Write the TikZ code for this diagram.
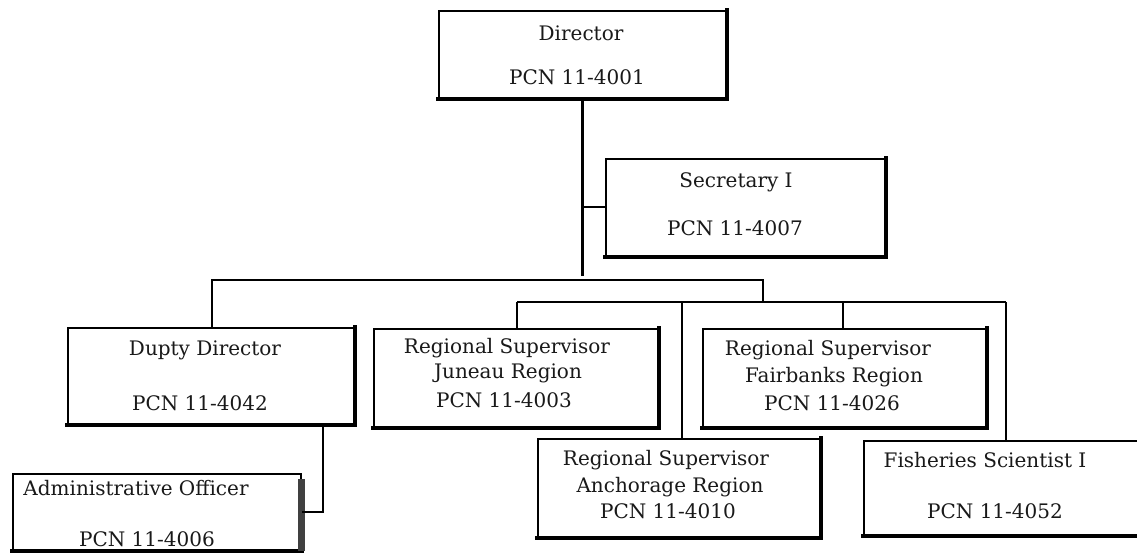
\documentclass[tikz,border=0pt]{standalone}
\usepackage{fontspec}
\newfontfamily\chartfont{DejaVu Serif}
\begin{document}
\begin{tikzpicture}[x=1pt,y=-1pt,
  box/.style={draw, line width=1.8pt, inner sep=0pt, anchor=north west},
  txt/.style={font=\chartfont\fontsize{20}{22}\selectfont, inner sep=0pt, text=black!90},
  conn/.style={line width=2.5pt},
  heavy/.style={line width=4.5pt, line cap=rect, line join=miter},
  shade/.style={line width=7pt, draw=black!75}]
\useasboundingbox[fill=white] (0,0) rectangle (1137,557);

% boxes
\node[box, minimum width=287pt, minimum height=87pt] (dir) at (438,10) {};
\node[box, minimum width=279pt, minimum height=97pt] (sec) at (605,158) {};
\node[box, minimum width=286pt, minimum height=96pt] (dup) at (67,327) {};
\node[box, minimum width=284pt, minimum height=98pt] (jun) at (373,328) {};
\node[box, minimum width=283pt, minimum height=98pt] (fai) at (702,328) {};
\node[box, minimum width=282pt, minimum height=98pt] (anc) at (537,438) {};
\node[box, minimum width=300pt, minimum height=94pt] (fis) at (863,440) {};
\node[box, minimum width=288pt, minimum height=76pt] (adm) at (12,473) {};

% heavy bottom/right edges
\draw[heavy] (dir.north east) -- (dir.south east) -- (dir.south west);
\draw[heavy] (sec.north east) -- (sec.south east) -- (sec.south west);
\draw[heavy] (dup.north east) -- (dup.south east) -- (dup.south west);
\draw[heavy] (jun.north east) -- (jun.south east) -- (jun.south west);
\draw[heavy] (fai.north east) -- (fai.south east) -- (fai.south west);
\draw[heavy] (anc.north east) -- (anc.south east) -- (anc.south west);
\draw[heavy] (fis.south east) -- (fis.south west);
\draw[heavy] (adm.south east) -- (adm.south west);
\draw[shade] ([yshift=-6pt]adm.north east) -- (adm.south east);

% texts
\node[txt] (dirA) at (581,33) {Director};
\node[txt] (dirB) at (577,77) {PCN 11-4001};
\node[txt] (secA) at (736,182) {Secretary I};
\node[txt] (secB) at (735,228) {PCN 11-4007};
\node[txt] (dupA) at (205,350) {Dupty Director};
\node[txt] (dupB) at (200,403) {PCN 11-4042};
\node[txt] (junA) at (507,348) {Regional Supervisor};
\node[txt] (junB) at (508,373) {Juneau Region};
\node[txt] (junC) at (504,400) {PCN 11-4003};
\node[txt] (faiA) at (828,350) {Regional Supervisor};
\node[txt] (faiB) at (834,377) {Fairbanks Region};
\node[txt] (faiC) at (832,403) {PCN 11-4026};
\node[txt] (ancA) at (666,460) {Regional Supervisor};
\node[txt] (ancB) at (670,487) {Anchorage Region};
\node[txt] (ancC) at (668,511) {PCN 11-4010};
\node[txt] (fisA) at (985,460) {Fisheries Scientist I};
\node[txt] (fisB) at (995,511) {PCN 11-4052};
\node[txt] (admA) at (136,488) {Administrative Officer};
\node[txt] (admB) at (147,539) {PCN 11-4006};

% connectors
\coordinate (busA) at (212,280);
\coordinate (busAR) at (763,280);
\coordinate (busB) at (763,302);
\coordinate (busBL) at (517,302);
\coordinate (busBR) at (1006,302);
\coordinate (busBa) at (682,302);
\coordinate (busBf) at (843,302);
\coordinate (secJ) at (583,207);
\coordinate (admJ) at (323,512);

\draw[conn] (dir.south) -- ([yshift=4pt]dir.south |- busA);
\draw[conn] (secJ) -- (secJ -| sec.west);
\draw[conn] (dup.north -| busA) -- (busA) -- (busAR) -- (busB);
\draw[conn] (busBL) -- (busBR);
\draw[conn] (busBL) -- (busBL |- jun.north);
\draw[conn] (busBa) -- (busBa |- anc.north);
\draw[conn] (busBf) -- (busBf |- fai.north);
\draw[conn] (busBR) -- (busBR |- fis.north);
\draw[conn] (admJ |- dup.south) -- (admJ) -- (admJ -| adm.east);
\end{tikzpicture}
\end{document}
